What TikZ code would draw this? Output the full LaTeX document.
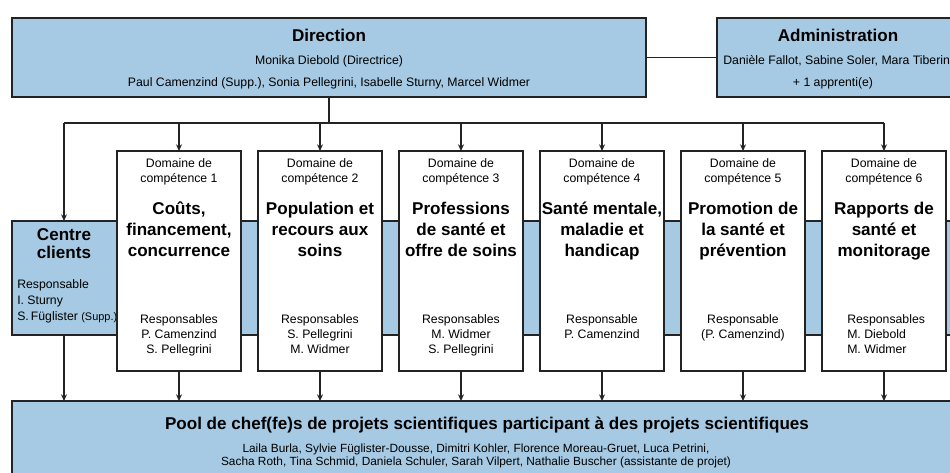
\documentclass[tikz,border=0pt]{standalone}
\usepackage{fontspec}
\setmainfont{Liberation Sans}
\usetikzlibrary{arrows.meta,fit}
\definecolor{panelblue}{RGB}{166,202,227}
\definecolor{edge}{RGB}{35,35,35}

\begin{document}
% Multi-line nodes are placed by the baseline of their last line.
\begin{tikzpicture}[x=0.75pt,y=-0.75pt,
  frame/.style={draw=edge, line width=1.2pt, inner sep=0pt, outer sep=0pt},
  bluebox/.style={frame, fill=panelblue},
  domainbox/.style={frame, fill=white},
  small/.style={font=\fontsize{9.2}{11.25}\selectfont, inner sep=0pt, align=center, anchor=base},
  smallleft/.style={small, align=left, anchor=base west},
  title/.style={font=\fontsize{12.8}{15.75}\selectfont\bfseries, inner sep=0pt, align=center, anchor=base},
  link/.style={draw=edge, line width=1pt},
  arr/.style={link, -{Stealth[length=5pt,width=4.5pt]}},
]
\useasboundingbox (0,0) rectangle (950,473);
\clip (0,0) rectangle (950,473);

% ---------- top row ----------
\node[bluebox, fit={(12,18) (646,97)}] (dir) {};
\node[title] (dirT) at (329,42) {Direction};
\node[small] (dirA) at (329,65) {Monika Diebold (Directrice)};
\node[small] (dirB) at (329,87) {Paul Camenzind (Supp.), Sonia Pellegrini, Isabelle Sturny, Marcel Widmer};

\node[bluebox, fit={(717,18) (957,97)}] (adm) {};
\node[title] (admT) at (838,42) {Administration};
\node[small] (admA) at (838,65) {Danièle Fallot, Sabine Soler, Mara Tiberini};
\node[small] (admB) at (833,87) {+ 1 apprenti(e)};

\draw[link] (dir.east) -- (adm.west);

% ---------- centre band ----------
\node[bluebox, fit={(12,221) (965,335)}] (band) {};
\coordinate (cc) at (64,278);
\node[title, font=\fontsize{12.8}{13.8}\selectfont\bfseries] (ccT) at (64,259) {Centre\\clients};
\node[smallleft, font=\fontsize{9.2}{12.2}\selectfont] (ccR) at (17,321)
  {Responsable\\I. Sturny\\S.\,Füglister {\fontsize{8.2}{12.2}\selectfont(Supp.)}};

% ---------- domain boxes ----------
\foreach \i/\x in {1/179,2/320,3/461,4/602,5/743,6/884}{
  \node[domainbox, fit={(\x-62,151) (\x+62,371)}] (d\i) {};
  \node[small] (d\i h) at (\x,183) {Domaine de\\compétence \i};
}
\node[title] (d1t) at (179,257) {Coûts,\\financement,\\concurrence};
\node[title] (d2t) at (320,257) {Population et\\recours aux\\soins};
\node[title] (d3t) at (461,257) {Professions\\de santé et\\offre de soins};
\node[title] (d4t) at (602,257) {Santé mentale,\\maladie et\\handicap};
\node[title] (d5t) at (743,257) {Promotion de\\la santé et\\prévention};
\node[title] (d6t) at (884,257) {Rapports de\\santé et\\monitorage};

\node[small] (d1r) at (179,354) {Responsables\\P. Camenzind\\S. Pellegrini};
\node[small] (d2r) at (320,354) {Responsables\\S. Pellegrini\\M. Widmer};
\node[small] (d3r) at (461,354) {Responsables\\M. Widmer\\S. Pellegrini};
\node[small] (d4r) at (602,339) {Responsable\\P. Camenzind};
\node[small] (d5r) at (743,339) {Responsable\\(P. Camenzind)};
\node[smallleft] (d6r) at (847,354) {Responsables\\M. Diebold\\M. Widmer};

% ---------- pool ----------
\node[bluebox, fit={(12,401) (962,490)}] (pool) {};
\node[title] (poolT) at (487,430)
  {Pool de chef(fe)s de projets scientifiques participant à des projets scientifiques};
\node[small, font=\fontsize{8.9}{9.75}\selectfont] (poolN) at (476,466)
  {Laila Burla, Sylvie Füglister-Dousse, Dimitri Kohler, Florence Moreau-Gruet, Luca Petrini,\\
   Sacha Roth, Tina Schmid, Daniela Schuler, Sarah Vilpert, Nathalie Buscher (assistante de projet)};

% ---------- connectors ----------
\coordinate (bus) at (0,123);
\draw[link] (dir.south) -- (dir.south |- bus);
\draw[link] (cc |- bus) -- (d6.north |- bus);
\draw[arr] (cc |- bus) -- (cc |- band.north);
\foreach \i in {1,...,6}{
  \draw[arr] (d\i.north |- bus) -- (d\i.north);
  \draw[arr] (d\i.south) -- (d\i.south |- pool.north);
}
\draw[arr] (cc |- band.south) -- (cc |- pool.north);
\end{tikzpicture}
\end{document}
